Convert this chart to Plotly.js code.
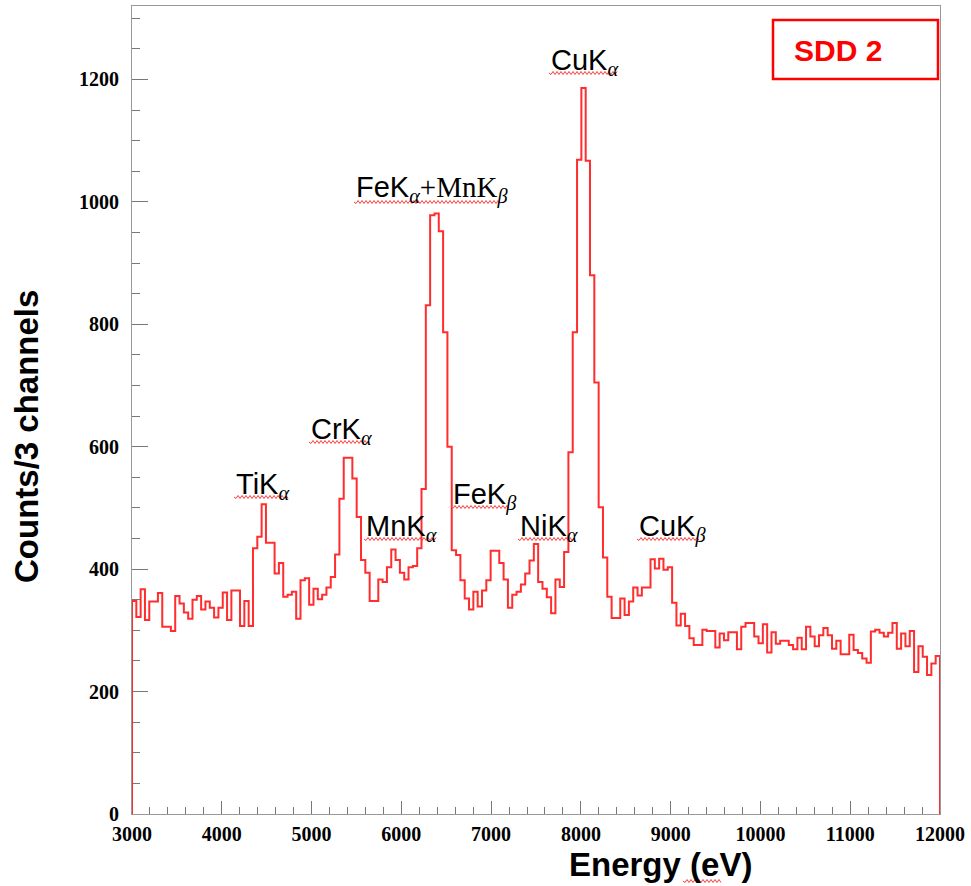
<!DOCTYPE html>
<html>
<head>
<meta charset="utf-8">
<script src="https://cdn.plot.ly/plotly-3.0.1.min.js"></script>
<style>html,body{margin:0;padding:0;background:#fff;}#chart{width:971px;height:886px;}</style>
</head>
<body>
<div id="chart"></div>
<script>
// ---- data (counts per 3-channel bin, 3000-12000 eV) ----
const energyMin = 3000;
const energyMax = 12000;
const counts = [
348, 322, 367, 317, 347, 347, 361, 306, 306, 299,
356, 344, 329, 319, 350, 356, 334, 347, 337, 321,
337, 362, 317, 365, 365, 307, 348, 307, 434, 453,
506, 443, 443, 393, 410, 355, 358, 363, 319, 382,
385, 342, 368, 351, 358, 370, 387, 424, 515, 582,
582, 548, 485, 415, 394, 348, 348, 383, 379, 403,
432, 415, 394, 383, 403, 405, 434, 531, 831, 978,
981, 952, 787, 600, 431, 423, 382, 352, 334, 363,
339, 365, 382, 430, 430, 410, 383, 337, 358, 363,
375, 393, 414, 441, 379, 368, 354, 328, 383, 371,
428, 591, 787, 1069, 1186, 1067, 880, 705, 501, 419,
355, 320, 320, 352, 325, 347, 370, 357, 370, 370,
416, 401, 417, 399, 403, 345, 308, 327, 307, 287,
276, 276, 301, 299, 299, 272, 295, 284, 297, 297,
269, 306, 312, 312, 290, 279, 310, 264, 297, 278,
283, 283, 276, 269, 288, 269, 306, 290, 274, 292,
304, 292, 270, 283, 261, 261, 293, 268, 263, 254,
247, 298, 301, 296, 290, 296, 312, 270, 295, 274,
299, 232, 274, 257, 227, 246, 258
];
const xTickVals = [3000, 4000, 5000, 6000, 7000, 8000, 9000, 10000, 11000, 12000];
const yTickVals = [0, 200, 400, 600, 800, 1000, 1200];
const lineNames = ["TiK", "CrK", "MnK", "FeK", "FeK", "NiK", "CuK", "CuK"];
const lineSubs  = ["α", "α", "α", "α", "β", "α", "α", "β"];
const lineExtra = ["", "", "", "+MnK", "", "", "", ""];
const lineExtraSub = ["", "", "", "β", "", "", "", ""];

// ---- build step outline (histogram) ----
const binW = (energyMax - energyMin) / counts.length;
const xs = [energyMin], ys = [0];
counts.forEach((c, i) => { xs.push(energyMin + i * binW); ys.push(c); });
xs.push(energyMax); ys.push(0);

const trace = {
  x: xs, y: ys, type: 'scatter', mode: 'lines',
  line: {shape: 'hv', color: 'rgb(255,45,45)', width: 2},
  hoverinfo: 'skip'
};

// ---- layout helpers ----
const L = 132, T = 6, W = 808, H = 808;
const px2x = p => (p - L) / W;
const py2y = p => (T + H - p) / H;
const subSpan = g => `<sub><span style="font-family:'Liberation Serif';font-style:italic">${g}</span></sub>`;

// label placement (pixel anchors: left of text, vertical middle of capitals)
const labelPos = [[234,482],[309,427],[364,524],[354,186],[451,492],[518,524],[549,58],[637,524]];
const underline = [[234,289,497],[309,368,442],[364,436,539],[354,500,202],[451,510,507],[518,575,539],[549,617,73],[637,700,539],[683,722,881]];

const annotations = lineNames.map((n, i) => {
  let t = n + subSpan(lineSubs[i]);
  if (lineExtra[i]) t += `<span style="font-family:'Liberation Serif'">${lineExtra[i]}</span>` + subSpan(lineExtraSub[i]);
  return {
    xref: 'paper', yref: 'paper', x: px2x(labelPos[i][0]), y: py2y(labelPos[i][1] + 4),
    xanchor: 'left', yanchor: 'middle', showarrow: false, text: t,
    font: {family: 'Liberation Sans, Arial', size: 29, color: '#000'}
  };
});
annotations.push({
  xref: 'paper', yref: 'paper', x: px2x(660), y: py2y(864), xanchor: 'center', yanchor: 'middle',
  showarrow: false, text: 'Energy (eV)',
  font: {family: 'Liberation Sans, Arial', size: 33, color: '#000', weight: 'bold'}
});
annotations.push({
  xref: 'paper', yref: 'paper', x: px2x(27), y: py2y(437), xanchor: 'center', yanchor: 'middle',
  showarrow: false, textangle: -90, text: 'Counts/3 channels',
  font: {family: 'Liberation Sans, Arial', size: 33, color: '#000', weight: 'bold'}
});
annotations.push({
  xref: 'paper', yref: 'paper', x: px2x(792), y: py2y(50), xanchor: 'left', yanchor: 'middle',
  showarrow: false, text: 'SDD 2',
  font: {family: 'Liberation Sans, Arial', size: 30, color: 'rgb(255,0,0)', weight: 'bold'}
});

function squiggle(x0, x1, y) {
  let d = `M ${px2x(x0)} ${py2y(y)}`;
  let k = 0;
  for (let p = x0 + 2; p <= x1; p += 2, k++) {
    d += ` L ${px2x(p)} ${py2y(y + (k % 2 === 0 ? 1.5 : -1.5))}`;
  }
  return d;
}
const shapes = underline.map(u => ({
  type: 'path', xref: 'paper', yref: 'paper', path: squiggle(u[0], u[1], u[2]),
  line: {color: 'rgb(255,60,60)', width: 1}
}));
shapes.push({
  type: 'rect', xref: 'paper', yref: 'paper',
  x0: px2x(773), x1: px2x(938), y0: py2y(79), y1: py2y(20),
  line: {color: 'rgb(255,0,0)', width: 2.5}
});

const tickFont = {family: 'Liberation Serif, Times New Roman', size: 20, color: '#000', weight: 'bold'};
const layout = {
  width: 971, height: 886,
  margin: {l: L, r: 971 - L - W, t: T, b: 886 - T - H, pad: 0},
  paper_bgcolor: '#fff', plot_bgcolor: '#fff',
  showlegend: false,
  xaxis: {
    range: [energyMin, energyMax], tickmode: 'array', tickvals: xTickVals, tickformat: 'd',
    ticks: 'inside', ticklen: 13, tickwidth: 1, tickcolor: '#777',
    minor: {tickmode: 'linear', tick0: 3000, dtick: 200, ticks: 'inside', ticklen: 7, tickwidth: 1, tickcolor: '#777', showgrid: false},
    showline: true, linecolor: '#999', linewidth: 1, mirror: true,
    showgrid: false, zeroline: false, tickfont: tickFont, layer: 'below traces', ticklabelstandoff: 2
  },
  yaxis: {
    range: [0, 1320], tickmode: 'array', tickvals: yTickVals, tickformat: 'd',
    ticks: 'inside', ticklen: 16, tickwidth: 1, tickcolor: '#777',
    minor: {tickmode: 'linear', tick0: 0, dtick: 50, ticks: 'inside', ticklen: 8, tickwidth: 1, tickcolor: '#777', showgrid: false},
    showline: true, linecolor: '#999', linewidth: 1, mirror: true,
    showgrid: false, zeroline: false, tickfont: tickFont, layer: 'below traces', ticklabelstandoff: 8
  },
  annotations: annotations,
  shapes: shapes
};

Plotly.newPlot('chart', [trace], layout, {staticPlot: true, displayModeBar: false});
</script>
</body>
</html>
